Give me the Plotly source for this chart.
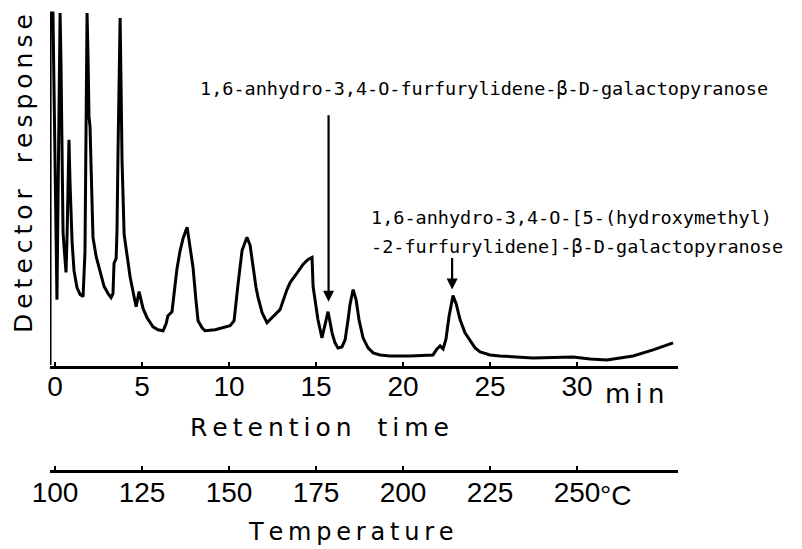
import plotly.graph_objects as go

# ---------------- data ----------------
time_min = [-0.29, -0.28, -0.12, -0.06, 0.00, 0.06, 0.11, 0.17, 0.23, 0.29,
            0.34, 0.40, 0.46, 0.52, 0.57, 0.63, 0.69, 0.75, 0.80, 0.86,
            0.92, 0.98, 1.09, 1.26, 1.44, 1.61, 1.72, 1.78, 1.84, 1.90,
            1.95, 2.01, 2.13, 2.18, 2.36, 2.59, 2.82, 3.05, 3.22, 3.33,
            3.39, 3.51, 3.56, 3.62, 3.68, 3.74, 3.79, 3.85, 3.97, 4.14,
            4.31, 4.48, 4.66, 4.83, 4.94, 5.06, 5.29, 5.63, 5.92, 6.21,
            6.38, 6.49, 6.72, 6.90, 7.01, 7.18, 7.36, 7.59, 7.76, 7.93,
            8.10, 8.22, 8.45, 8.62, 9.20, 9.66, 10.06, 10.29, 10.40, 10.52,
            10.75, 11.03, 11.21, 11.38, 11.55, 11.67, 11.90, 12.18, 12.47, 12.76,
            12.93, 13.33, 13.51, 13.85, 14.25, 14.54, 14.77, 14.83, 15.00, 15.11,
            15.34, 15.52, 15.69, 15.80, 15.92, 16.09, 16.26, 16.49, 16.67, 16.84,
            16.95, 17.13, 17.30, 17.47, 17.70, 17.99, 18.28, 18.68, 19.25, 20.40,
            21.72, 21.95, 22.13, 22.30, 22.47, 22.64, 22.87, 23.05, 23.28, 23.56,
            23.85, 24.14, 24.43, 25.00, 25.57, 27.47, 29.77, 30.75, 31.72, 32.47,
            33.22, 34.37, 35.52]

response = [1, 351, 351, 263, 188, 123, 66, 163, 303, 351,
            303, 193, 133, 118, 108, 93, 128, 183, 225, 183,
            138, 123, 95, 78, 71, 69, 113, 243, 351, 303,
            248, 238, 163, 128, 109, 94, 79, 72, 68, 72,
            102, 107, 134, 214, 304, 346, 284, 204, 131, 109,
            89, 74, 59, 74, 64, 57, 48, 39, 36, 35,
            42, 50, 54, 79, 97, 114, 127, 138, 120, 98,
            65, 45, 38, 35, 36, 38, 40, 45, 65, 82,
            115, 128, 120, 98, 78, 68, 53, 43, 48, 53,
            56, 76, 83, 91, 101, 106, 108, 79, 58, 46,
            28, 41, 54, 44, 33, 23, 18, 19, 26, 46,
            61, 76, 66, 46, 28, 18, 13, 11, 10, 10,
            11, 17, 20, 17, 27, 49, 70, 62, 46, 33,
            25, 18, 14, 11, 10, 8, 9, 7, 6, 8,
            10, 16, 23]

time_ticks = [0, 5, 10, 15, 20, 25, 30]
time_tick_labels = ["0", "5", "10", "15", "20", "25", "30"]
temp_ticks = [100, 125, 150, 175, 200, 225, 250]
temp_tick_labels = ["100", "125", "150", "175", "200", "225", "250"]
start_temp = 100      # degC at t = 0
heating_rate = 5      # degC per min

label_1 = "1,6-anhydro-3,4-O-furfurylidene-\u03b2-D-galactopyranose"
label_2a = "1,6-anhydro-3,4-O-[5-(hydroxymethyl)"
label_2b = "-2-furfurylidene]-\u03b2-D-galactopyranose"
peak_1 = (15.72, 64)
peak_2 = (22.82, 76)

# ---------------- layout helpers ----------------
OFF = 8                      # page body margin of the browser
W, H = 802 - OFF, 549 - OFF
# plot area in screen pixels: x 50..678, y 10..471
SX0, SX1, SY0, SY1 = 50, 678, 10, 471
L, R, T, B = SX0 - OFF, W - (SX1 - OFF), SY0 - OFF, H - (SY1 - OFF)
PW, PH = SX1 - SX0, SY1 - SY0


def px(x):
    return (x - SX0) / PW


def py(y):
    return (SY1 - y) / PH


def spaced(s, gap="\u2009"):
    return gap.join(list(s))


t_lo = -0.29
t_hi = t_lo + PW / 17.4

tick_font = dict(family="Liberation Sans, Arial, sans-serif", size=28, color="black")
title_font = dict(family="DejaVu Sans, sans-serif", size=25, color="black")
mono_font = dict(family="DejaVu Sans Mono, Liberation Mono, monospace", size=18.5, color="black")

fig = go.Figure()
fig.add_trace(go.Scatter(x=time_min, y=response, mode="lines",
                         line=dict(color="black", width=3), xaxis="x", yaxis="y",
                         hoverinfo="skip", showlegend=False))
fig.add_trace(go.Scatter(x=[], y=[], xaxis="x2", yaxis="y", showlegend=False, hoverinfo="skip"))

fig.update_layout(
    width=W, height=H,
    margin=dict(l=L, r=R, t=T, b=B, pad=0, autoexpand=False),
    paper_bgcolor="white", plot_bgcolor="white",
    showlegend=False,
    xaxis=dict(range=[t_lo, t_hi], anchor="y", showline=True, linecolor="black", linewidth=2.5,
               ticks="inside", ticklen=4, tickwidth=2, tickcolor="black",
               tickvals=time_ticks, ticktext=time_tick_labels, tickfont=tick_font,
               ticklabelstandoff=-6, automargin=False,
               showgrid=False, zeroline=False, fixedrange=True),
    xaxis2=dict(range=[start_temp + heating_rate * t_lo, start_temp + heating_rate * t_hi],
                overlaying="x", anchor="free", position=0, side="bottom",
                showline=True, linecolor="black", linewidth=2.5,
                ticks="inside", ticklen=4, tickwidth=2, tickcolor="black",
                tickvals=temp_ticks, ticktext=temp_tick_labels, tickfont=tick_font,
                ticklabelstandoff=-4, automargin=False,
                showgrid=False, zeroline=False, fixedrange=True),
    yaxis=dict(domain=[py(366), 1], range=[0, 354], visible=False, fixedrange=True),
)

ann = []
# axis titles
ann.append(dict(text=spaced("Detector") + "\u2009\u00a0\u00a0\u2009" + spaced("response"),
                xref="paper", yref="paper", x=px(23), y=py(174), textangle=-90,
                xanchor="center", yanchor="middle", showarrow=False, font=title_font))
ann.append(dict(text=spaced("Retention") + "\u2009\u00a0\u00a0\u2009" + spaced("time"),
                xref="paper", yref="paper", x=px(319), y=py(427),
                xanchor="center", yanchor="middle", showarrow=False, font=title_font))
ann.append(dict(text=spaced("Temperature"),
                xref="paper", yref="paper", x=px(351), y=py(532),
                xanchor="center", yanchor="middle", showarrow=False,
                font=dict(family="DejaVu Sans, sans-serif", size=24, color="black")))
# unit suffixes
ann.append(dict(text=spaced("min"), xref="paper", yref="paper", x=px(634), y=py(394),
                xanchor="center", yanchor="middle", showarrow=False,
                font=dict(family="DejaVu Sans, sans-serif", size=26, color="black")))
ann.append(dict(text="\u00b0C", xref="paper", yref="paper", x=px(598), y=py(495),
                xanchor="left", yanchor="middle", showarrow=False, font=tick_font))
# peak labels
ann.append(dict(text=label_1, xref="paper", yref="paper", x=px(198), y=py(89),
                xanchor="left", yanchor="middle", showarrow=False, font=mono_font))
ann.append(dict(text=label_2a, xref="paper", yref="paper", x=px(369), y=py(217),
                xanchor="left", yanchor="middle", showarrow=False, font=mono_font))
ann.append(dict(text=label_2b, xref="paper", yref="paper", x=px(369), y=py(246),
                xanchor="left", yanchor="middle", showarrow=False, font=mono_font))
# arrows
ann.append(dict(text="", x=peak_1[0], y=peak_1[1], xref="x", yref="y",
                ax=0, ay=-188, showarrow=True, arrowhead=2, arrowsize=1,
                arrowwidth=2.2, arrowcolor="black"))
ann.append(dict(text="", x=peak_2[0], y=peak_2[1], xref="x", yref="y",
                ax=0, ay=-33, showarrow=True, arrowhead=2, arrowsize=1,
                arrowwidth=2.2, arrowcolor="black"))
fig.update_layout(annotations=ann)

fig.write_html("out.html")
